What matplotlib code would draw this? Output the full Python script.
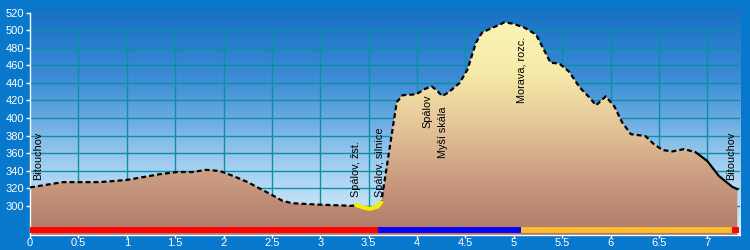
import matplotlib.pyplot as plt
import numpy as np
from matplotlib.colors import LinearSegmentedColormap

plt.rcParams['font.family'] = ['Liberation Sans', 'DejaVu Sans']

# profile: distance (km) and elevation (m)
dist = [0.0, 0.34, 0.72, 1.0, 1.34, 1.52, 1.68, 1.82, 1.96, 2.1, 2.25, 2.48, 2.61,
        2.71, 2.96, 3.33, 3.37, 3.45, 3.51, 3.59, 3.63, 3.72, 3.79, 3.85, 3.99,
        4.08, 4.15, 4.2, 4.26, 4.33, 4.44, 4.52, 4.61, 4.67, 4.78, 4.85, 4.9,
        4.99, 5.11, 5.23, 5.31, 5.38, 5.47, 5.57, 5.68, 5.78, 5.85, 5.95, 6.04,
        6.12, 6.21, 6.36, 6.45, 6.54, 6.64, 6.76, 6.88, 7.0, 7.12, 7.26, 7.31]
elev = [321, 327, 327, 329.5, 336, 338.5, 338.5, 341, 339.7, 334, 327, 313.6, 305.7,
        303, 301.5, 300, 301, 298, 296.6, 299, 304, 368, 418, 426, 427,
        433, 436, 432, 425, 429.6, 440, 455, 486, 497, 503, 506, 509,
        507.5, 503, 495, 478, 463, 462, 453, 435, 423.6, 414.5, 424.7, 413,
        395, 381.6, 379.5, 370, 363.5, 362, 364.6, 361, 351, 334, 321.5, 319]

# highlighted bit (yellow) and the solid tail
hl_start, hl_end = 3.37, 3.63
solid_from = 6.88

# waypoints
wp_names = ['Bitouchov', 'Spálov, žst.', 'Spálov, silnice', 'Spálov', 'Myší skála',
            'Morava, rozc.', 'Bitouchov']
wp_x = [0.08, 3.37, 3.62, 4.11, 4.27, 5.08, 7.25]
wp_y = [330, 310, 310, 389, 355, 417, 329]

# coloured strip under the profile
strip_from = [0.0, 3.6, 5.07, 7.25]
strip_to = [3.6, 5.07, 7.25, 7.33]
strip_col = ['#ff0000', '#0000ff', '#fdbd2c', '#ff0000']

xticks = [0, 0.5, 1, 1.5, 2, 2.5, 3, 3.5, 4, 4.5, 5, 5.5, 6, 6.5, 7]
xticklabels = ['0', '0.5', '1', '1.5', '2', '2.5', '3', '3.5', '4', '4.5', '5',
               '5.5', '6', '6.5', '7']
yticks = list(range(300, 521, 20))

x0, x1 = 0, 7.338
y0, y1 = 266.8, 525.3

fig = plt.figure(figsize=(7.5, 2.5), dpi=100)
fig.patch.set_facecolor('#0878cc')
ax = fig.add_axes([0.04, 0.06, 0.9467, 0.908])
ax.set_xlim(x0, x1)
ax.set_ylim(y0, y1)

# sky
sky = LinearSegmentedColormap.from_list('sky', ['#dcf0fc', '#9ccbef', '#3f8fd6', '#1670c4'])
grad = np.linspace(0, 1, 256).reshape(-1, 1)
ax.imshow(grad, extent=[x0, x1, y0, y1], origin='lower', cmap=sky, aspect='auto', zorder=0)

# grid
for yy in yticks[:-1]:
    ax.plot([x0, x1], [yy, yy], color='#0c8ea4', lw=1, zorder=1)
for xx in xticks[1:]:
    ax.plot([xx, xx], [y0, 503], color='#0c8ea4', lw=1, zorder=1)

# terrain with vertical gradient
d = np.array(dist)
e = np.array(elev)
poly = ax.fill_between(d, e, y0, color='none', lw=0)
ground = LinearSegmentedColormap.from_list('ground', ['#b07868', '#c89a80', '#e4c498', '#f6eaa8', '#fbf4b8'])
gyy = np.linspace(0, 1, 256).reshape(-1, 1)
img = ax.imshow(gyy, extent=[x0, x1, y0, 512], origin='lower', cmap=ground, aspect='auto', zorder=2)
img.set_clip_path(poly.get_paths()[0], transform=ax.transData)

# profile line
m_dash = d <= solid_from
ax.plot(d[m_dash], e[m_dash], color='black', lw=1.6, ls=(0, (2.2, 1.4)), zorder=4)
ax.plot(d[d >= solid_from], e[d >= solid_from], color='black', lw=1.6, zorder=4)
m_hl = (d >= hl_start) & (d <= hl_end)
ax.plot(d[m_hl], e[m_hl], color='#f0f000', lw=3, solid_capstyle='round', zorder=5)

# strip
for a, b, c in zip(strip_from, strip_to, strip_col):
    ax.plot([a, b], [273, 273], color=c, lw=4.2, solid_capstyle='butt', zorder=6)

# waypoint labels
for name, xx, yy in zip(wp_names, wp_x, wp_y):
    ax.text(xx, yy, name, rotation=90, ha='center', va='bottom', fontsize=7.8,
            color='black', zorder=7)

for s in ['top', 'right']:
    ax.spines[s].set_visible(False)
for s in ['left', 'bottom']:
    ax.spines[s].set_color('white')
    ax.spines[s].set_linewidth(1)
ax.spines['left'].set_bounds(y0, 520)
ax.set_xticks(xticks)
ax.set_xticklabels(xticklabels)
ax.set_yticks(yticks)
ax.tick_params(colors='white', labelsize=8, length=3, width=1, pad=1)
ax.tick_params(axis='x', length=2, pad=0)

fig.savefig('out.png', dpi=100, facecolor=fig.get_facecolor())
